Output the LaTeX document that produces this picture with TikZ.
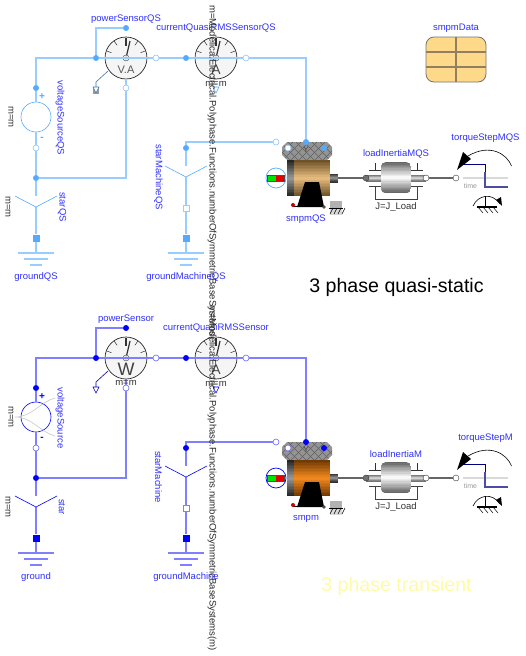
\documentclass[tikz,border=0pt]{standalone}
\usepackage{fontspec}
\setmainfont{Liberation Sans}
\usepackage{xcolor}
\usetikzlibrary{arrows.meta}

\definecolor{wireQS}{HTML}{99CCFF}
\definecolor{pinQS}{HTML}{55AAFF}
\definecolor{wireM}{HTML}{7F7FFF}
\definecolor{pinM}{HTML}{0000FF}
\definecolor{labelblue}{HTML}{3030FF}
\definecolor{tanmid}{HTML}{E8BE80}
\definecolor{tandark}{HTML}{6E5228}
\definecolor{orangemid}{HTML}{F58A1E}
\definecolor{orangedark}{HTML}{703A05}
\definecolor{tablefill}{HTML}{FFD98A}
\definecolor{tableline}{HTML}{90805F}

\tikzset{
    wire/.style={line width=1.3pt, draw=wirecol},
    thinwire/.style={line width=0.6pt, draw=wirecol},
    mech/.style={line width=1.2pt, draw=black!60},
    pinfill/.style={circle, fill=pincol, minimum size=6pt, inner sep=0pt},
    pinopen/.style={circle, draw=wirecol!80!pincol, line width=0.6pt, fill=white, minimum size=6pt, inner sep=0pt},
    pinsquare/.style={rectangle, fill=pincol, minimum size=7pt, inner sep=0pt},
    pinbox/.style={rectangle, draw=wirecol, line width=0.9pt, fill=white, minimum size=6pt, inner sep=0pt},
    meter/.style={circle, draw=black!85, line width=0.7pt, fill=black!4, minimum size=42pt, inner sep=0pt},
    source/.style={circle, draw=pincol, line width=0.6pt, minimum size=30pt, inner sep=0pt},
    lbl/.style={text=labelblue, font=\fontsize{9.5}{12}\selectfont, inner sep=0pt},
    par/.style={text=black!80, font=\fontsize{9.5}{12}\selectfont, inner sep=0pt},
}

\newcommand{\dialmarks}[2]{
    \foreach \a in {20,55,125,160} \draw[black!80, line width=0.5pt, shift={(#1)}] (\a:15.5pt) -- (\a:20.5pt);
    \draw[black!80, line width=1.2pt] (#2,38) -- (#2,46);
    \draw[black!80, line width=1.2pt] (#1.center) -- (#2+4,41);
    \draw[black!80, fill=black!4, line width=0.4pt] (#1.center) circle (3);
    \draw[black!80, fill=black!80] (#1.center) circle (1.2);
}
\newcommand{\groundmark}[1]{
    \draw[wire] (#1-18,253) -- (#1+18,253);
    \draw[wire] (#1-12,259) -- (#1+12,259);
    \draw[wire] (#1-6,265) -- (#1+6,265);
}
% strips from edge colour #5 to centre colour #6
\newcommand{\bandfill}[6]{
    \colorlet{bandedge}{#5}
    \colorlet{bandmid}{#6}
    \foreach \k in {0,...,23} {
        \pgfmathsetmacro\bandmix{100*(1-abs(\k-11.5)/11.5)}
        \fill[bandmid!\bandmix!bandedge] (#1,{#2+(#4-#2)*\k/24}) rectangle (#3,#4);
    }
}

% one complete circuit, #1 = name suffix, #2 = downward shift, #3/#4 = motor colours
\newcommand{\phasecircuit}[4]{
\begin{scope}[yshift=-#2pt]
    \node[meter] (powerSensor#1) at (126,58) {};
    \node[meter] (currentSensor#1) at (216,58) {};
    \dialmarks{powerSensor#1}{126}
    \dialmarks{currentSensor#1}{216}
    \node[text=black!70, font=\fontsize{14}{14}\selectfont, inner sep=0pt] (currentUnit#1) at (216,70) {A};

    \node[pinfill] (powerIn#1) at (96,58) {};
    \node[pinfill] (powerVolt#1) at (126,28) {};
    \node[pinopen] (powerOut#1) at (156,58) {};
    \node[pinopen] (powerNeg#1) at (126,88) {};
    \node[pinfill] (currentIn#1) at (186,58) {};
    \node[pinopen] (currentOut#1) at (246,58) {};
    \node[pinfill] (sourceP#1) at (36,88) {};
    \node[source] (source#1) at (36,117) {};
    \node[pinopen] (sourceN#1) at (36,148) {};
    \node[pinfill] (junction#1) at (36,178) {};
    \coordinate (starIn#1) at (36,196);
    \coordinate (starHub#1) at (36,207);
    \node[pinsquare] (groundPin#1) at (36,238) {};
    \coordinate (groundTop#1) at (36,253);
    \node[pinfill] (neutral#1) at (186,148) {};
    \coordinate (starMachineIn#1) at (186,166);
    \coordinate (starMachineHub#1) at (186,177);
    \node[pinbox] (starMachineOut#1) at (186,208) {};
    \node[pinsquare] (groundMachinePin#1) at (186,238) {};
    \coordinate (groundMachineTop#1) at (186,253);

    \draw[wire] (sourceP#1) |- (powerIn#1);
    \draw[wire] (powerIn#1) -- (powerOut#1);
    \draw[wire] (powerIn#1) |- (powerVolt#1);
    \draw[wire] (powerOut#1) -- (currentIn#1);
    \draw[wire] (currentIn#1) -- (currentOut#1);
    \draw[wire] (sourceP#1) -- (source#1);
    \draw[wire] (source#1) -- (sourceN#1);
    \draw[wire] (sourceN#1) -- (junction#1);
    \draw[wire] (junction#1) -| (powerNeg#1);
    \draw[wire] (powerNeg#1) -- (powerSensor#1.south);
    \draw[wire] (junction#1) -- (starIn#1);
    \draw[wire] (starHub#1) -- (groundPin#1);
    \draw[wire] (groundPin#1) -- (groundTop#1);
    \draw[wire] (neutral#1) -- (starMachineIn#1);
    \draw[wire] (starMachineHub#1) -- (starMachineOut#1);
    \draw[wire] (starMachineOut#1) -- (groundMachinePin#1);
    \draw[wire] (groundMachinePin#1) -- (groundMachineTop#1);
    \draw[thinwire, draw=pincol] (15,196) -- (starHub#1) -- (57,196);
    \draw[thinwire, draw=pincol] (165,166) -- (starMachineHub#1) -- (207,166);
    \groundmark{36}
    \groundmark{186}
    \node[text=pincol, font=\fontsize{10}{10}\selectfont\bfseries, inner sep=0pt] (plus#1) at (42,97) {+};
    \node[text=pincol, font=\fontsize{10}{10}\selectfont\bfseries, inner sep=0pt] (minus#1) at (42,139) {-};
    \draw[thinwire, draw=pincol!70!black] (108,71) -- (96,82) -- (96,87);
    \draw[thinwire, draw=pincol!70!black, fill=white] (93,87) -- (99,87) -- (96,93) -- cycle;
    \draw[thinwire, draw=pincol, fill=white] (213,87) -- (219,87) -- (216,93) -- cycle;

    % motor
    \begin{scope}
        \clip (282,147) -- (287,142) -- (327,142) -- (332,147) -- (332,155) -- (327,160) -- (319,160) -- (319,163) -- (293,163) -- (293,160) -- (287,160) -- (282,155) -- cycle;
        \fill[black!42] (280,140) rectangle (334,165);
        \foreach \d in {-16,-8,...,64} {
            \draw[black!62, line width=0.5pt] (270+\d,165) -- (295+\d,140);
            \draw[black!62, line width=0.5pt] (270+\d,140) -- (295+\d,165);
        }
    \end{scope}
    \bandfill{294}{160}{330}{196}{#4}{#3}
    \bandfill{287}{160}{294}{196}{black!85}{black!40}
    \bandfill{330}{174}{338}{182}{black!80}{black!40}
    \fill[black] (297,207) -- (305,182) -- (319,182) -- (324,207) -- cycle;
    \draw[black, line width=1pt] (293,206) -- (324,206);
    \fill[red!80!black] (293,205) circle (2);
    \fill[black!70] (324,207) circle (1.8);
    \fill[black!30] (330,201) rectangle (342,209);
    \fill[black!15] (330,209) rectangle (342,215);
    \draw[black, line width=0.8pt] (329,208) -- (343,208);
    \foreach \h in {330,334,338,342} \draw[black, line width=0.5pt] (\h,214) -- (\h+3,208);
    \node[text=black!75, font=\fontsize{8}{8}\selectfont, inner sep=0pt] (motorY#1) at (306,150) {Y};
    \node[pinfill] (motorC#1) at (306,142) {};
    \node[pinopen] (motorA#1) at (288,148) {};
    \node[pinfill] (motorB#1) at (324,148) {};
    \node[pinopen] (motorStar#1) at (276,142) {};
    \draw[wire] (currentOut#1) -| (motorC#1);
    \draw[wire] (neutral#1) |- (motorStar#1);
    \node[circle, draw=pincol, line width=0.7pt, fill=white, minimum size=20pt, inner sep=0pt] (thermal#1) at (276,178) {};
    \fill[green!90!black] (267.5,175) rectangle (276,181);
    \fill[red!90!black] (276,175) rectangle (284.5,181);
    \draw[black!70, line width=0.4pt] (267.5,175) rectangle (284.5,181);

    % load inertia
    \coordinate (motorShaft#1) at (338,178);
    \bandfill{366}{175}{426}{181}{black!55}{black!12}
    \begin{scope}
        \clip[rounded corners=5pt] (381,162) rectangle (411,193);
        \bandfill{381}{162}{411}{193}{black!60}{white}
    \end{scope}
    \draw[black!80, line width=0.6pt] (375,163) -- (375,170) (369,170) -- (381,170) (417,163) -- (417,170) (411,170) -- (423,170);
    \draw[black!75, line width=0.8pt] (369,186) -- (381,186) (375,186) -- (375,199) -- (417,199) -- (417,186) (411,186) -- (423,186);
    \node[circle, draw=black!80, fill=black!55, minimum size=6pt, inner sep=0pt] (flangeA#1) at (366,178) {};
    \node[circle, draw=black!80, fill=white, minimum size=6pt, inner sep=0pt] (flangeB#1) at (426,178) {};
    \node[circle, draw=black!80, fill=white, minimum size=6pt, inner sep=0pt] (torquePin#1) at (456,178) {};
    \draw[mech] (motorShaft#1) -- (flangeA#1);
    \draw[mech] (flangeB#1) -- (torquePin#1);

    % torque step
    \draw[black!15, line width=1.2pt] (463,178) -- (508,178);
    \draw[blue!50!black, line width=0.9pt] (463,164) -- (485,164) -- (485,172);
    \draw[blue!50!black!70, line width=1.1pt] (485,172) -- (485,187) -- (508,187);
    \node[text=black!40, font=\fontsize{7}{7}\selectfont, inner sep=0pt] (timeAxis#1) at (470.5,185.5) {time};
    \draw[black, line width=0.6pt] (511.5,166) .. controls (507,154) and (490,143) .. (468,156);
    \fill[black] (457,170) -- (463,152) -- (471,159) -- cycle;
    \draw[black, line width=0.6pt] (473,206) .. controls (478,195) and (492,192) .. (500,204);
    \fill[black] (502,206) -- (496,200) -- (501,197) -- cycle;
    \draw[black, line width=0.6pt] (485,196) -- (485,207);
    \draw[black, line width=1.1pt] (477,207) -- (497,207);
    \foreach \h in {478,483,488,493} \draw[black, line width=0.5pt] (\h,207) -- (\h+5,213);

    % labels
    \node[lbl] (powerLabel#1) at (126,19) {powerSensor#1};
    \node[lbl] (currentLabel#1) at (216,28) {currentQuasiRMSSensor#1};
    \node[lbl, rotate=-90] (sourceLabel#1) at (60,118) {voltageSource#1};
    \node[lbl, rotate=-90] (starLabel#1) at (62,207) {star#1};
    \node[lbl, rotate=-90] (starMachineLabel#1) at (158.5,177) {starMachine#1};
    \node[lbl] (groundLabel#1) at (36,277) {ground#1};
    \node[lbl] (groundMachineLabel#1) at (186,277) {groundMachine#1};
    \node[lbl] (motorLabel#1) at (306,219) {smpm#1};
    \node[lbl] (inertiaLabel#1) at (396,154) {loadInertiaM#1};
    \node[lbl] (torqueLabel#1) at (485.5,138.5) {torqueStepM#1};
    \node[par] (inertiaPar#1) at (396,207) {J=J\_Load};
    \node[par, rotate=-90] (sourcePar#1) at (11,117) {m=m};
    \node[par, rotate=-90] (starPar#1) at (8,207) {m=m};
    \node[par] (currentPar#1) at (216,84) {m=m};
    \node[par, rotate=-90, text=black!85] (symPar#1) at (212,178) {m=Modelica.Electrical.Polyphase.Functions.numberOfSymmetricBaseSystems(m)};
\end{scope}
}

\begin{document}
\begin{tikzpicture}[x=1pt, y=-1pt, >=Stealth]
    \useasboundingbox (0,0) rectangle (525,656);

    \colorlet{wirecol}{wireQS}
    \colorlet{pincol}{pinQS}
    \fill[black!40] (93,87) rectangle (99,94);
    \phasecircuit{QS}{0}{tanmid}{tandark}
    \node[text=black!65, font=\fontsize{11}{11}\selectfont, inner sep=0pt] (unitVA) at (126,70) {V.A};

    \colorlet{wirecol}{wireM}
    \colorlet{pincol}{pinM}
    \phasecircuit{}{300}{orangemid}{orangedark}
    \node[text=black!75, font=\fontsize{18}{18}\selectfont, inner sep=0pt] (unitW) at (126,369) {W};
    \node[par] (powerPar) at (126,383) {m=m};
    \draw[black!22, line width=0.6pt] (55,398) .. controls (40,402) and (32,417) .. (15,417) .. controls (32,417) and (40,432) .. (55,436);

    % data table
    \node[lbl] (dataLabel) at (456,28) {smpmData};
    \node[draw=black!55, line width=0.8pt, fill=tablefill, rounded corners=8pt, minimum width=60pt, minimum height=45pt, inner sep=0pt] (smpmData) at (456,59.5) {};
    \draw[tableline, line width=1.2pt] (smpmData.north) -- (smpmData.south);
    \draw[tableline, line width=1.2pt] (426,52) -- (486,52);
    \draw[tableline, line width=1.2pt] (426,67) -- (486,67);

    % titles
    \node[text=black, font=\fontsize{19.6}{21}\selectfont, inner sep=0pt] (titleQS) at (396.5,287) {3 phase quasi-static};
    \node[text=yellow!35, font=\fontsize{19.6}{21}\selectfont, inner sep=0pt] (titleM) at (396.5,586) {3 phase transient};
\end{tikzpicture}
\end{document}
